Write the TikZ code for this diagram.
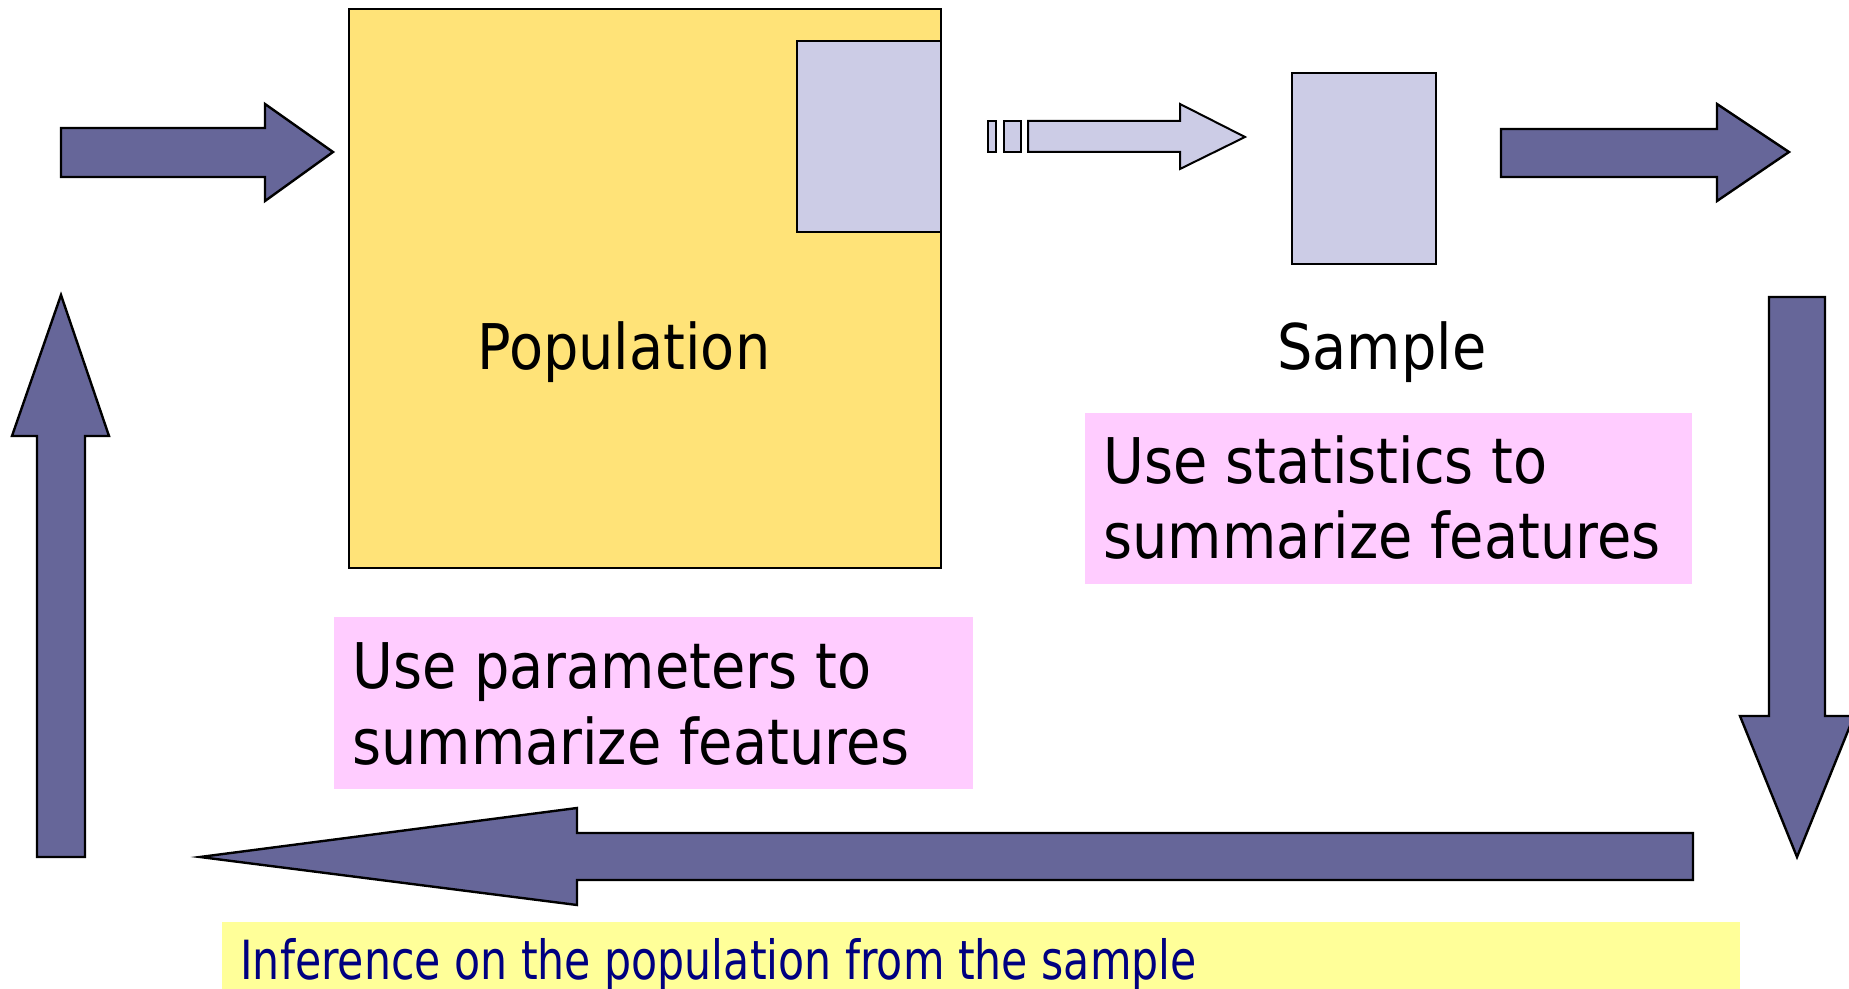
\documentclass[tikz,border=0pt]{standalone}
\usepackage{fontspec}
\newfontfamily\tah[FakeStretch=0.79]{DejaVu Sans}
\newfontfamily\tahwide[FakeStretch=0.885]{DejaVu Sans}
\definecolor{popyellow}{RGB}{255,227,120}
\definecolor{lavender}{RGB}{204,204,230}
\definecolor{arrowblue}{RGB}{102,102,153}
\definecolor{notepink}{RGB}{255,204,255}
\definecolor{paleyellow}{RGB}{255,255,153}
\definecolor{navytext}{RGB}{0,0,128}
\tikzset{
  blockarrow/.style={fill=arrowblue, draw=black, line width=1.2pt, line join=miter},
  lightarrow/.style={fill=lavender, draw=black, line width=1pt, line join=miter},
  boxpop/.style={fill=popyellow, draw=black, line width=1pt},
  boxlav/.style={fill=lavender, draw=black, line width=1pt},
  bigtext/.style={anchor=base west, inner sep=0pt, font=\tahwide\fontsize{31.5}{37}\selectfont, text=black},
  smalltext/.style={anchor=base west, inner sep=0pt, font=\tah\fontsize{27}{32}\selectfont, text=navytext},
}
\begin{document}
\begin{tikzpicture}[x=0.5pt, y=-0.5pt]
\useasboundingbox (0,0) rectangle (1849,989);
\fill[white] (0,0) rectangle (1849,989);

% population and its sampled part
\draw[boxpop] (349,9) rectangle (941,568);
\draw[boxlav] (797,41) rectangle (941,232);
\node[bigtext] (poplabel) at (477,370) {Population};

% the sample
\draw[boxlav] (1292,73) rectangle (1436,264);
\node[bigtext] (samplelabel) at (1277,370) {Sample};

% note boxes
\fill[notepink] (1085,413) rectangle (1692,584);
\node[bigtext] (stat1) at (1103,484) {Use statistics to};
\node[bigtext] (stat2) at (1103,559) {summarize features};

\fill[notepink] (334,617) rectangle (973,789);
\node[bigtext] (par1) at (352,689) {Use parameters to};
\node[bigtext] (par2) at (352,764) {summarize features};

% inference banner
\fill[paleyellow] (222,922) rectangle (1740,989);
\node[smalltext] (inference) at (240,979) {Inference on the population from the sample};

% sampling arrow (broken tail)
\draw[lightarrow] (988,121) rectangle (996,152);
\draw[lightarrow] (1004,121) rectangle (1021,152);
\draw[lightarrow] (1028,121) -- (1180,121) -- (1180,104) -- (1245,137)
  -- (1180,169) -- (1180,152) -- (1028,152) -- cycle;

% cycle of block arrows
\draw[blockarrow] (61,128) -- (265,128) -- (265,104) -- (333,152)
  -- (265,201) -- (265,177) -- (61,177) -- cycle;
\draw[blockarrow] (1501,129) -- (1717,129) -- (1717,104) -- (1789,152)
  -- (1717,201) -- (1717,177) -- (1501,177) -- cycle;
\draw[blockarrow] (1769,297) -- (1825,297) -- (1825,716) -- (1854,716)
  -- (1797,857) -- (1740,716) -- (1769,716) -- cycle;
\draw[blockarrow] (1693,833) -- (1693,880) -- (577,880) -- (577,905)
  -- (200,857) -- (577,808) -- (577,833) -- cycle;
\draw[blockarrow] (37,857) -- (37,436) -- (12,436) -- (61,295)
  -- (109,436) -- (85,436) -- (85,857) -- cycle;
\end{tikzpicture}
\end{document}
